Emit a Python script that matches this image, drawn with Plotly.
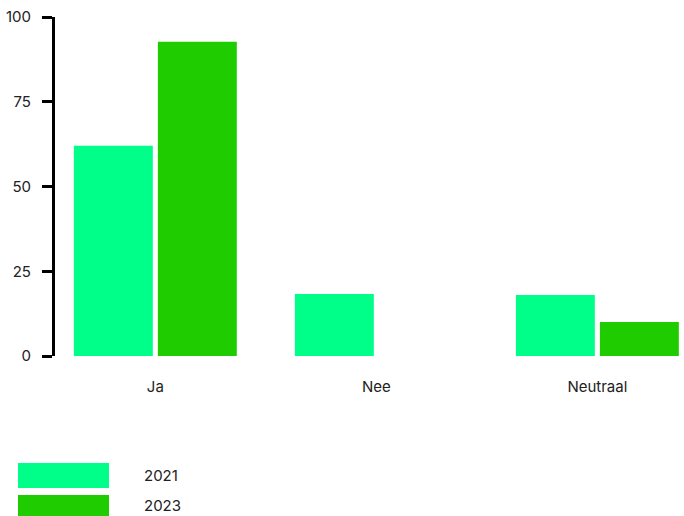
import plotly.graph_objects as go

# Survey answers per year
categories = ["Ja", "Nee", "Neutraal"]
years = ["2021", "2023"]
values_2021 = [62, 18.3, 18]
values_2023 = [92.7, 0, 10]
y_ticks = [0, 25, 50, 75, 100]

colors = {"2021": "#00FF88", "2023": "#1ECC00"}
series = {"2021": values_2021, "2023": values_2023}

fig = go.Figure()
for yr in years:
    fig.add_trace(go.Bar(
        x=categories, y=series[yr], name=yr,
        marker=dict(color=colors[yr], line=dict(width=0)),
        showlegend=False,
    ))

font = "Inter, Roboto, sans-serif"
text_color = "#222222"

fig.update_layout(
    width=684, height=516,
    margin=dict(l=55, r=0, t=17, b=160),
    paper_bgcolor="white", plot_bgcolor="white",
    barmode="group", bargap=0.24, bargroupgap=0.06,
    font=dict(family=font, size=15, color=text_color),
    xaxis=dict(
        range=[-0.454, 2.392], showline=False, showgrid=False,
        zeroline=False, ticks="", ticklabelstandoff=20,
        tickfont=dict(size=15, color=text_color),
    ),
    yaxis=dict(
        range=[0, 100], tickvals=y_ticks, showgrid=False, zeroline=False,
        showline=True, linecolor="black", linewidth=3,
        ticks="outside", ticklen=10, tickwidth=3, tickcolor="black",
        ticklabelstandoff=8, tickfont=dict(size=15, color=text_color),
    ),
)

# Legend drawn as wide swatches with year labels underneath the chart
legend_rows = [(463, 488), (495, 516)]
for yr, (y0, y1) in zip(years, legend_rows):
    fig.add_shape(
        type="rect", xref="paper", yref="paper",
        x0=(18 - 55) / 629, x1=(109 - 55) / 629,
        y0=(356 - y1) / 339, y1=(356 - y0) / 339,
        fillcolor=colors[yr], line=dict(width=0), layer="above",
    )
    fig.add_annotation(
        text=yr, xref="paper", yref="paper",
        x=(142 - 55) / 629, y=(356 - (y0 + y1) / 2) / 339,
        xanchor="left", yanchor="middle", showarrow=False,
        font=dict(family=font, size=15, color=text_color),
    )

fig.write_html("out.html")
